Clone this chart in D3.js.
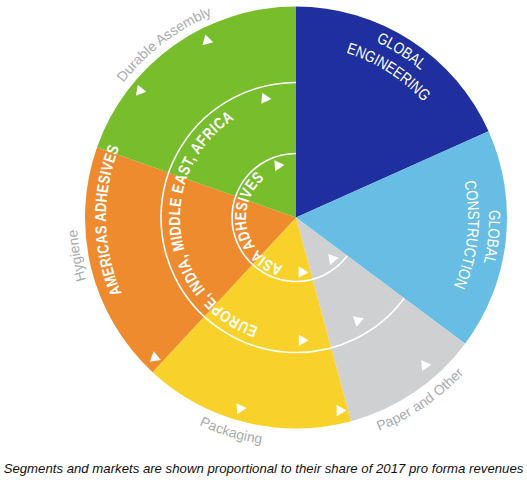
<!DOCTYPE html>
<html><head><meta charset="utf-8">
<script src="https://cdn.jsdelivr.net/npm/d3@7"></script>
<style>
html,body{margin:0;padding:0;background:#fff;}
svg{display:block;}
.mk{font-family:"Liberation Sans",Arial,sans-serif;font-weight:bold;font-size:16px;fill:#fff;}
.seglab{font-family:"Liberation Sans",Arial,sans-serif;font-size:16px;fill:#fff;}
.outlab{font-family:"Liberation Sans",Arial,sans-serif;font-size:14px;fill:#a9abae;}
.cap{font-family:"Liberation Sans",Arial,sans-serif;font-style:italic;font-size:13.2px;fill:#111;}
</style></head><body>
<svg id="c" width="527" height="480"></svg>
<script>
// ---- data ----
const segments = ["Global Engineering","Global Construction","Paper and Other","Packaging","Hygiene","Durable Assembly"];
const shares = [18.3, 16.9, 10.6, 16.1, 18.5, 19.6];
const segmentColors = ["#1f2f9f","#67bde3","#cfd0d2","#f8d22a","#ef8b2f","#77bd2c"];
const insideLabels = [["GLOBAL","ENGINEERING"],["GLOBAL","CONSTRUCTION"],null,null,null,null];
const outsideLabels = [null,null,"Paper and Other","Packaging","Hygiene","Durable Assembly"];
const markets = ["ASIA ADHESIVES","EUROPE, INDIA, MIDDLE EAST, AFRICA","AMERICAS ADHESIVES"];
const caption = "Segments and markets are shown proportional to their share of 2017 pro forma revenues";

// ---- layout ----
const W = 527, H = 480, cx = 296, cy = 217.5, R = 211;
const deg = Math.PI/180;
const svg = d3.select("#c");
const defs = svg.append("defs");
const g = svg.append("g").attr("transform", `translate(${cx},${cy})`);

const pie = d3.pie().sort(null).value(d => d);
const slices = pie(shares);
const arc = d3.arc().innerRadius(0).outerRadius(R);

g.selectAll("path.seg").data(slices).join("path")
  .attr("class","seg")
  .attr("d", arc)
  .attr("fill", (d,i) => segmentColors[i]);

function arcD(r, a0, a1){
  const x0 = r*Math.sin(a0), y0 = -r*Math.cos(a0), x1 = r*Math.sin(a1), y1 = -r*Math.cos(a1);
  const large = Math.abs(a1-a0) > Math.PI ? 1 : 0, sweep = a1 > a0 ? 1 : 0;
  return `M${x0},${y0}A${r},${r} 0 ${large} ${sweep} ${x1},${y1}`;
}
let pid = 0;
// curved text; optional target length and glyph condensing factor
function curvedText(text, r, centerAngle, clockwise, cls, targetLen, sx){
  const id = "tp" + (pid++);
  const span = 1.5;
  defs.append("path").attr("id", id)
    .attr("d", clockwise ? arcD(r, centerAngle-span, centerAngle+span) : arcD(r, centerAngle+span, centerAngle-span));
  const t = g.append("text").attr("class", cls);
  const tp = t.append("textPath").attr("href", "#"+id).attr("startOffset","50%")
    .attr("text-anchor","middle").text(text);
  if (targetLen){
    sx = sx || 1;
    const nat = t.node().getComputedTextLength();
    const n = text.length;
    const ls = (targetLen/sx - nat)/n;
    t.style("letter-spacing", ls + "px");
    tp.attr("textLength", targetLen).attr("lengthAdjust","spacingAndGlyphs");
  }
  return t;
}

// market rings (start where the adhesives segments begin)
const ringStart = slices[2].startAngle, ringEnd = 2*Math.PI;
const ringRadii = [64, 135];
ringRadii.forEach(r => {
  g.append("path").attr("d", arcD(r, ringStart, ringEnd))
    .attr("fill","none").attr("stroke","#fff").attr("stroke-width",1.6);
});

// market labels along rings: baseline radius and angular extent (deg)
const marketText = [
  {r: 50, a0: 195, a1: 321},
  {r: 116, a0: 199, a1: 328},
  {r: 190, a0: 246.5, a1: 291.7}
];
markets.forEach((m,i) => {
  const p = marketText[i];
  const c = (p.a0+p.a1)/2*deg;
  const len = (p.a1-p.a0)*deg*p.r;
  curvedText(m, p.r, c, true, "mk", len, 0.8);
});

// segment labels inside (white), condensed
slices.forEach((s,i) => {
  if (!insideLabels[i]) return;
  const mid = (s.startAngle + s.endAngle)/2 - 0.01;
  const [l1, l2] = insideLabels[i];
  const tmp = g.append("text").attr("class","seglab");
  const w1 = tmp.text(l1).node().getComputedTextLength();
  const w2 = tmp.text(l2).node().getComputedTextLength();
  tmp.remove();
  curvedText(l1, 193, mid, true, "seglab", w1*0.83, 0.83);
  curvedText(l2, 172, mid, true, "seglab", w2*0.83, 0.83);
});

// outer grey labels
const outerNudge = [0,0,0,3,4,-2];
slices.forEach((s,i) => {
  if (!outsideLabels[i]) return;
  const mid = (s.startAngle + s.endAngle)/2 + outerNudge[i]*deg;
  const bottom = Math.cos(mid) < -0.2 && Math.abs(Math.sin(mid)) < 0.8;
  if (bottom) curvedText(outsideLabels[i], 229, mid, false, "outlab");
  else curvedText(outsideLabels[i], 219, mid, true, "outlab");
});

// decorative triangles [angle deg, radius, pointing direction deg]
const tris = [[333.3,198,15],[309.1,201,10],[345.4,123,5],[340.9,55,-5],[225.2,199,-100],
  [196.3,199,-5],[167.2,198,0],[138.9,196,115],[138.7,55,110],[149,120,100],[173.8,55,0],[177.2,123,0]];
const sym = d3.symbol().type(d3.symbolTriangle).size(54);
g.selectAll("path.tri").data(tris).join("path")
  .attr("class","tri")
  .attr("d", sym())
  .attr("fill","#fff")
  .attr("transform", d => `translate(${d[1]*Math.sin(d[0]*deg)},${-d[1]*Math.cos(d[0]*deg)}) rotate(${d[2]+90})`);

svg.append("text").attr("x", W/2).attr("y", 473).attr("text-anchor","middle")
  .attr("class","cap").text(caption);
</script>
</body></html>
